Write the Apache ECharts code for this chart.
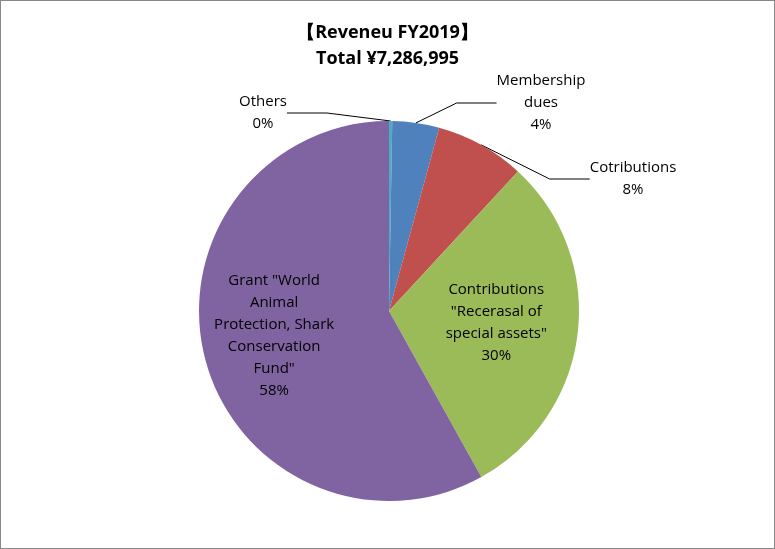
<!DOCTYPE html>
<html><head><meta charset="utf-8">
<script src="https://cdn.jsdelivr.net/npm/echarts@6/dist/echarts.min.js"></script>
<style>html,body{margin:0;padding:0;background:#fff}#c{width:773px;height:547px;border:1px solid #888}</style>
</head><body><div id="c"></div>
<script>
const categories = ['Others', 'Membership\ndues', 'Cotributions', 'Contributions\n"Recerasal of\nspecial assets"', 'Grant "World\nAnimal\nProtection, Shark\nConservation\nFund"'];
const values = [20000, 290000, 555000, 2190000, 4231995];
const colors = ['#4BACC6', '#4F81BD', '#C0504D', '#9BBB59', '#8064A2'];
const outsidePos = {0: [262, 112], 1: [540, 102], 2: [632, 178]};
const chart = echarts.init(document.getElementById('c'));
chart.setOption({
  title: {text: '【Reveneu FY2019】\nTotal ¥7,286,995', left: 'center', top: 14,
    textStyle: {fontSize: 18, fontWeight: 'bold', color: '#000', lineHeight: 26, fontFamily: 'Open Sans'}},
  series: [{
    type: 'pie', center: [388, 310], radius: 190, startAngle: 90, percentPrecision: 0,
    animation: false,
    data: categories.map((n, i) => ({
      name: n, value: values[i], itemStyle: {color: colors[i]},
      label: i >= 3 ? {position: 'inside', offset: [i === 3 ? 10 : -20, 0]} : {position: 'outside'},
      labelLine: {show: i < 3, length: 20, length2: 40, lineStyle: {color: '#000', width: 1}}
    })),
    label: {formatter: '{b}\n{d}%', color: '#000', fontSize: 15, lineHeight: 22, fontFamily: 'Open Sans', align: 'center'},
    labelLayout: p => outsidePos[p.dataIndex] ? {x: outsidePos[p.dataIndex][0], y: outsidePos[p.dataIndex][1], align: 'center', verticalAlign: 'middle'} : {}
  }]
});
</script></body></html>
